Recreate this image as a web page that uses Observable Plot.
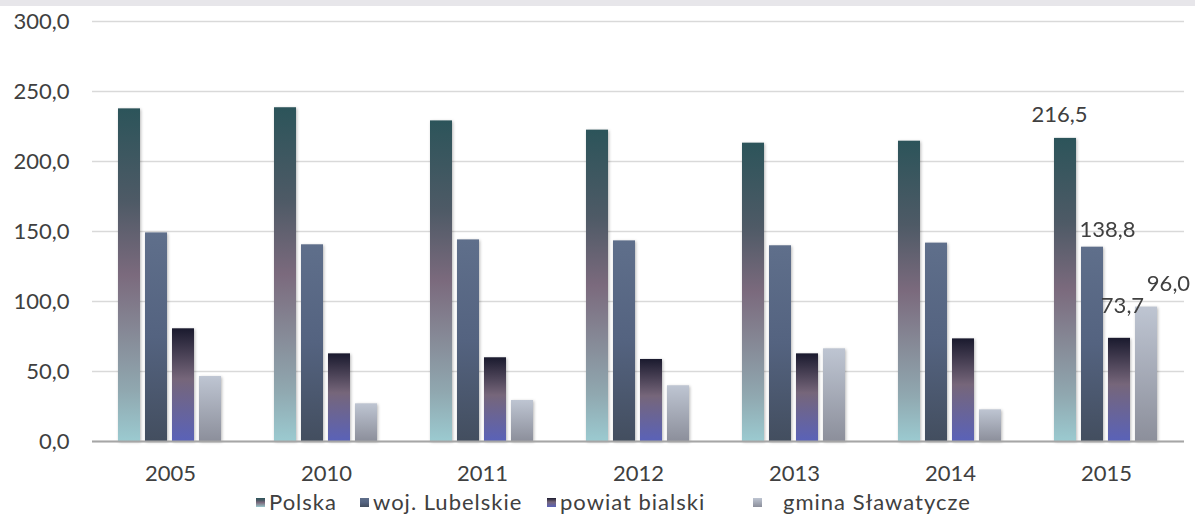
<!DOCTYPE html>
<html><head><meta charset="utf-8">
<script src="https://cdn.jsdelivr.net/npm/d3@7"></script>
<script src="https://cdn.jsdelivr.net/npm/@observablehq/plot@0.6"></script>
<style>
html,body{margin:0;padding:0;background:#fff;width:1195px;height:516px;overflow:hidden;}
body{font-family:Lato,"Open Sans",sans-serif;position:relative;}
#band{height:6px;background:#e7e6ea;}
#legend{position:absolute;left:0;top:489px;height:26px;width:1195px;font-size:22px;color:#404040;white-space:nowrap;letter-spacing:1px;}
#legend .item{position:absolute;display:flex;align-items:center;top:0;height:26px;line-height:26px;}
</style></head><body>
<svg width="0" height="0" style="position:absolute">
  <defs>
    <linearGradient id="g0" x1="0" y1="0" x2="0" y2="1">
      <stop offset="0" stop-color="#2c545a"/>
      <stop offset="0.28" stop-color="#4e5a66"/>
      <stop offset="0.5" stop-color="#7b6a7d"/>
      <stop offset="0.68" stop-color="#868a97"/>
      <stop offset="0.85" stop-color="#90a8b0"/>
      <stop offset="1" stop-color="#9bcad0"/>
    </linearGradient>
    <linearGradient id="g1" x1="0" y1="0" x2="0" y2="1">
      <stop offset="0" stop-color="#5f6f8b"/>
      <stop offset="0.5" stop-color="#546380"/>
      <stop offset="1" stop-color="#434e5f"/>
    </linearGradient>
    <linearGradient id="g2" x1="0" y1="0" x2="0" y2="1">
      <stop offset="0" stop-color="#1a1a2e"/>
      <stop offset="0.45" stop-color="#76667a"/>
      <stop offset="1" stop-color="#5a62b8"/>
    </linearGradient>
    <linearGradient id="g3" x1="0" y1="0" x2="0" y2="1">
      <stop offset="0" stop-color="#bec5d2"/>
      <stop offset="1" stop-color="#8c8f9b"/>
    </linearGradient>
  </defs>
</svg>
<div id="band"></div>
<div id="chart"></div>
<div id="legend"></div>
<script>
const years = ["2005","2010","2011","2012","2013","2014","2015"];
const seriesNames = ["Polska","woj. Lubelskie","powiat bialski","gmina Sławatycze"];
const polska    = [237.6, 238.4, 229.0, 222.4, 213.1, 214.5, 216.5];
const lubelskie = [149.0, 140.5, 144.0, 143.3, 139.8, 141.7, 138.8];
const powiat    = [80.5, 62.6, 59.8, 58.6, 62.6, 73.3, 73.7];
const gmina     = [46.4, 26.9, 29.3, 39.8, 66.2, 22.6, 96.0];
const yTicks = [0, 50, 100, 150, 200, 250, 300];
const labelYear = "2015";

const gradients = ["url(#g0)","url(#g1)","url(#g2)","url(#g3)"];
const seriesValues = [polska, lubelskie, powiat, gmina];
const data = [];
years.forEach((yr, i) => seriesNames.forEach((s, j) => data.push({year: yr, series: s, value: seriesValues[j][i]})));
const fmt = v => v.toFixed(1).replace(".", ",");

const labelOffsets = [[-6,-23],[15,-17],[3,-32],[22,-23]];
const labelMarks = seriesNames.map((s, j) => Plot.text(
  data.filter(d => d.year === labelYear && d.series === s),
  {fx: "year", x: "series", y: "value", text: d => fmt(d.value), dx: labelOffsets[j][0], dy: labelOffsets[j][1],
   fontSize: 22, fill: "#404040"}));

const chart = Plot.plot({
  width: 1195,
  height: 490,
  marginLeft: 90,
  marginRight: 10,
  marginTop: 15,
  marginBottom: 55,
  style: {fontFamily: "Lato, 'Open Sans', sans-serif", fontSize: "22px", color: "#404040", background: "#fff"},
  fx: {domain: years, padding: 0, label: null, tickSize: 0, tickPadding: 24},
  x: {domain: seriesNames, paddingInner: 0.18, paddingOuter: 0.91, axis: null},
  y: {domain: [0, 300], ticks: yTicks, tickFormat: fmt, tickSize: 0, tickPadding: 23, label: null},
  color: {type: "ordinal", domain: seriesNames, range: gradients},
  marks: [
    Plot.gridY(yTicks, {stroke: "#d9d9d9", strokeOpacity: 1, strokeWidth: 1.5}),
    Plot.barY(data, {fx: "year", x: "series", y: "value", fill: "series"}),
    Plot.ruleY([0], {stroke: "#a6a6a6", strokeWidth: 2}),
    ...labelMarks
  ]
});
chart.querySelectorAll('g[aria-label="bar"]').forEach(g => g.style.filter = "drop-shadow(1.5px 1px 1.5px rgba(0,0,0,0.28))");
document.getElementById("chart").appendChild(chart);

// legend
const legend = document.getElementById("legend");
const legendX = [256, 360, 547, 753];
const legendTextGap = [4, 4, 4, 21];
seriesNames.forEach((s, j) => {
  const item = document.createElement("div");
  item.className = "item";
  item.style.left = legendX[j] + "px";
  item.innerHTML = `<svg width="9" height="9" style="margin-right:${legendTextGap[j]}px"><rect width="9" height="9" fill="${gradients[j]}"/></svg><span>${s}</span>`;
  legend.appendChild(item);
});
</script>
</body></html>
